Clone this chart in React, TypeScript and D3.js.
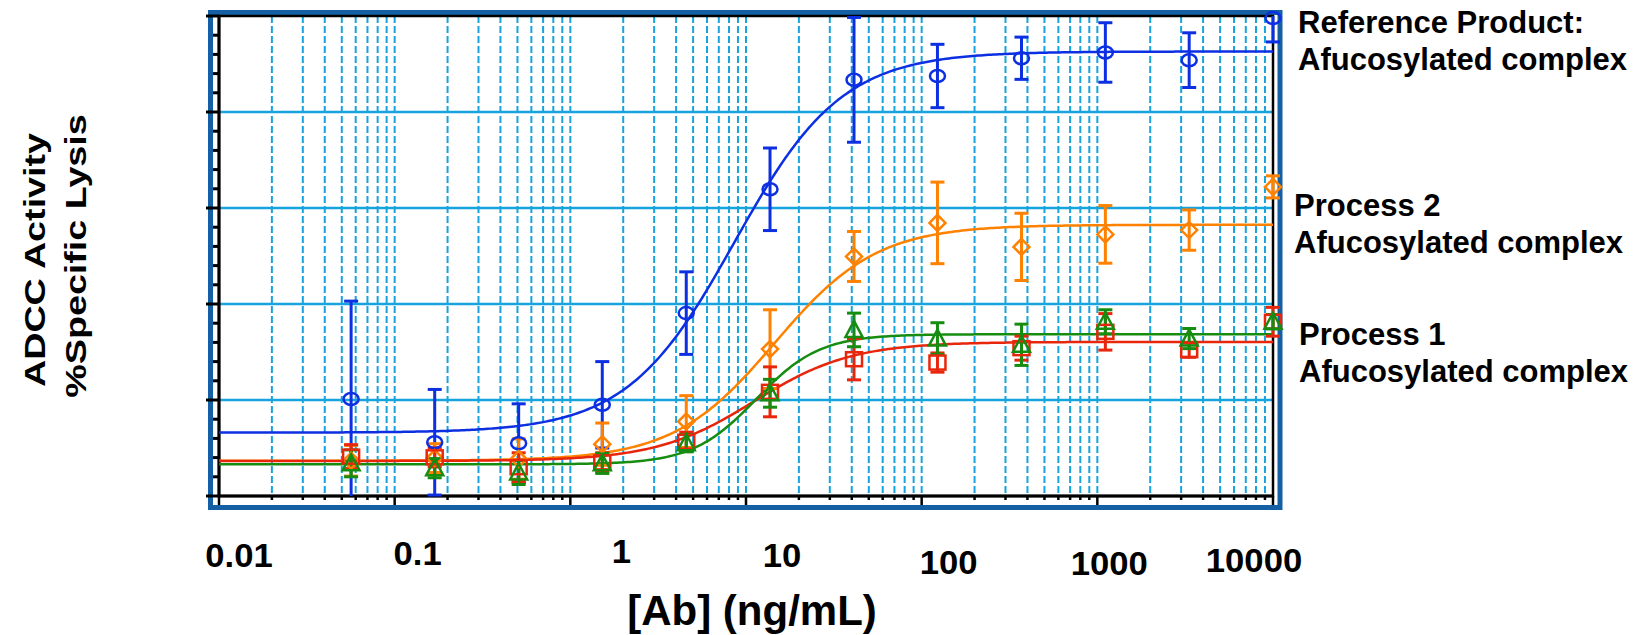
import * as d3 from "d3";

// concentrations (ng/mL), 3-fold dilution series
const concentrations = [0.0565, 0.169, 0.508, 1.52, 4.57, 13.7, 41.2, 123, 370, 1111, 3333, 10000];

// Reference Product (blue circles)
const refMean = [20.2, 11.2, 11.0, 19.0, 38.1, 63.9, 86.7, 87.5, 91.2, 92.4, 90.8, 99.6];
const refErr = [20.4, 11.0, 8.2, 9.0, 8.6, 8.6, 13.0, 6.6, 4.4, 6.2, 5.7, 5.0];

// Process 2 (orange diamonds)
const p2Mean = [7.35, 7.9, 7.7, 10.8, 15.5, 30.6, 49.9, 56.9, 51.9, 54.5, 55.4, 64.4];
const p2Err = [3.2, 3.0, 4.2, 4.4, 5.4, 8.2, 5.2, 8.5, 7.0, 6.0, 4.2, 2.3];

// Process 1, red squares
const p1RedMean = [8.2, 8.05, 6.0, 7.0, 11.3, 21.7, 28.5, 27.8, 30.8, 34.2, 30.4, 36.3];
const p1RedErr = [2.5, 2.0, 3.0, 2.0, 2.0, 5.2, 4.3, 2.0, 2.5, 3.8, 1.5, 3.0];

// Process 1, green triangles
const p1GreenMean = [6.8, 5.8, 4.9, 6.8, 11.0, 21.4, 34.6, 32.8, 31.5, 36.3, 32.8, 36.3];
const p1GreenErr = [2.8, 2.0, 2.5, 2.1, 1.8, 2.9, 3.5, 3.3, 4.3, 2.5, 2.1, 1.5];

// 4PL fit parameters: [bottom, top, EC50, hill]
const refFit = [13.2, 92.6, 8.6, 1.42];
const p2Fit = [7.35, 56.5, 14.6, 1.5];
const p1RedFit = [7.3, 32.1, 11.1, 1.56];
const p1GreenFit = [6.6, 33.7, 11.4, 2.4];

const xTickValues = [0.01, 0.1, 1, 10, 100, 1000, 10000];
const xTickLabels = ["0.01", "0.1", "1", "10", "100", "1000", "10000"];

const seriesLabels = [
  ["Reference Product:", "Afucosylated complex"],
  ["Process 2", "Afucosylated complex"],
  ["Process 1", "Afucosylated complex"],
];

// layout of the free-floating text boxes (offset from tick, baseline y)
const tickLabelLayout = [[20, 567], [23, 565], [51, 563], [36, 567], [27, 574], [12, 575], [-19, 572]];
const seriesLabelLayout = [[1298, 33], [1294, 216], [1299, 345]];

const FONT = "'Liberation Sans', Arial, sans-serif";
const GRID = "#17a3dd";

const fourPL = (c: number, p: number[]) => p[0] + (p[1] - p[0]) / (1 + Math.pow(p[2] / c, p[3]));

export default function App() {
  const x = d3.scaleLog().domain([0.01, 10000]).range([219, 1273]);
  const y = d3.scaleLinear().domain([0, 100]).range([496, 16]);

  const xTicks = x.ticks();
  const isMajor = (t: number) => Math.abs(Math.log10(t) - Math.round(Math.log10(t))) < 1e-9;
  const yTicks = d3.range(0, 101, 4);
  const yGrid = [20, 40, 60, 80];

  const curveX = d3.range(0, 401).map((i) => Math.pow(10, -2 + (6 * i) / 400));
  const line = d3
    .line<number[]>()
    .x((d) => x(d[0]))
    .y((d) => y(d[1]));

  const series = [
    { mean: refMean, err: refErr, fit: refFit, color: "#0c2fe2", shape: "circle" },
    { mean: p2Mean, err: p2Err, fit: p2Fit, color: "#ff8100", shape: "diamond" },
    { mean: p1RedMean, err: p1RedErr, fit: p1RedFit, color: "#e8260c", shape: "square" },
    { mean: p1GreenMean, err: p1GreenErr, fit: p1GreenFit, color: "#168c10", shape: "triangle" },
  ];

  const marker = (shape: string, cx: number, cy: number, color: string, key: string) => {
    const common = { fill: "none", stroke: color, strokeWidth: 2.5 };
    if (shape === "circle") return <ellipse key={key} cx={cx} cy={cy} rx={7.5} ry={6} {...common} />;
    if (shape === "diamond")
      return <path key={key} d={`M${cx},${cy - 8}L${cx + 8},${cy}L${cx},${cy + 8}L${cx - 8},${cy}Z`} {...common} />;
    if (shape === "square") return <rect key={key} x={cx - 8} y={cy - 7} width={16} height={14} {...common} />;
    return <path key={key} d={`M${cx},${cy - 9}L${cx + 8.5},${cy + 7}L${cx - 8.5},${cy + 7}Z`} {...common} />;
  };

  return (
    <svg width={1648} height={635} style={{ position: "absolute", left: 0, top: 0, background: "#fff" }}>
      {/* outer blue frame */}
      <rect x={210.5} y={12.5} width={1069.5} height={495} fill="#fff" stroke="#1560a4" strokeWidth={5} />

      {/* grid */}
      {xTicks
        .filter((t) => t > 0.01 && t < 10000)
        .map((t, i) => (
          <line key={"vg" + i} x1={x(t)} x2={x(t)} y1={y(100)} y2={y(0)} stroke={GRID} strokeWidth={2} strokeDasharray="7 3" />
        ))}
      {yGrid.map((v) => (
        <line key={"hg" + v} x1={x(0.01)} x2={x(10000)} y1={y(v)} y2={y(v)} stroke={GRID} strokeWidth={2.5} />
      ))}

      {/* plot frame */}
      <rect x={x(0.01)} y={y(100)} width={x(10000) - x(0.01)} height={y(0) - y(100)} fill="none" stroke="#000" strokeWidth={2.5} />
      <line x1={x(0.01)} x2={x(0.01)} y1={y(100)} y2={y(0)} stroke="#000" strokeWidth={3} />
      <line x1={x(0.01)} x2={x(10000)} y1={y(0)} y2={y(0)} stroke="#000" strokeWidth={3} />

      {/* y ticks */}
      {yTicks.map((v) => (
        <line key={"yt" + v} x1={x(0.01) - (v % 20 === 0 ? 13 : 6)} x2={x(0.01)} y1={y(v)} y2={y(v)} stroke="#000" strokeWidth={3} />
      ))}
      {/* x ticks */}
      {xTicks.map((t, i) => (
        <line key={"xt" + i} x1={x(t)} x2={x(t)} y1={y(0)} y2={y(0) + (isMajor(t) ? 9 : 4)} stroke="#000" strokeWidth={2.5} />
      ))}

      {/* fitted curves */}
      {series.map((s, i) => (
        <path
          key={"fit" + i}
          d={line(curveX.map((c) => [c, fourPL(c, s.fit)])) || ""}
          fill="none"
          stroke={s.color}
          strokeWidth={2.5}
        />
      ))}

      {/* error bars */}
      {series.map((s, si) =>
        s.mean.map((m, i) => {
          const cx = x(concentrations[i]);
          const hi = m + s.err[i];
          const lo = m - s.err[i];
          const top = Math.min(hi, 100);
          const bot = Math.max(lo, 0);
          return (
            <g key={`eb${si}-${i}`} stroke={s.color} strokeWidth={3}>
              <line x1={cx} x2={cx} y1={y(top)} y2={y(bot)} />
              {hi <= 100 && <line x1={cx - 7} x2={cx + 7} y1={y(hi)} y2={y(hi)} />}
              {lo >= 0 && <line x1={cx - 7} x2={cx + 7} y1={y(lo)} y2={y(lo)} />}
            </g>
          );
        })
      )}

      {/* markers */}
      {series.map((s, si) => s.mean.map((m, i) => marker(s.shape, x(concentrations[i]), y(m), s.color, `m${si}-${i}`)))}

      {/* x tick labels */}
      {xTickValues.map((t, i) => (
        <text
          key={"xl" + i}
          transform={`translate(${x(t) + tickLabelLayout[i][0]},${tickLabelLayout[i][1]}) scale(1.05,1)`}
          textAnchor="middle"
          fontFamily={FONT}
          fontWeight="bold"
          fontSize={33}
          fill="#000"
        >
          {xTickLabels[i]}
        </text>
      ))}

      {/* axis titles */}
      <text x={752} y={625} textAnchor="middle" fontFamily={FONT} fontWeight="bold" fontSize={42} fill="#000">
        [Ab] (ng/mL)
      </text>
      <text transform="translate(45,260) rotate(-90) scale(1.3,1)" textAnchor="middle" fontFamily={FONT} fontWeight="bold" fontSize={29} fill="#000">
        ADCC Activity
      </text>
      <text transform="translate(86,256) rotate(-90) scale(1.3,1)" textAnchor="middle" fontFamily={FONT} fontWeight="bold" fontSize={29} fill="#000">
        %Specific Lysis
      </text>

      {/* series labels */}
      {seriesLabels.map((lines, i) => (
        <text key={"sl" + i} fontFamily={FONT} fontWeight="bold" fontSize={31} fill="#000">
          {lines.map((t, j) => (
            <tspan key={j} x={seriesLabelLayout[i][0]} y={seriesLabelLayout[i][1] + j * 37}>
              {t}
            </tspan>
          ))}
        </text>
      ))}
    </svg>
  );
}
